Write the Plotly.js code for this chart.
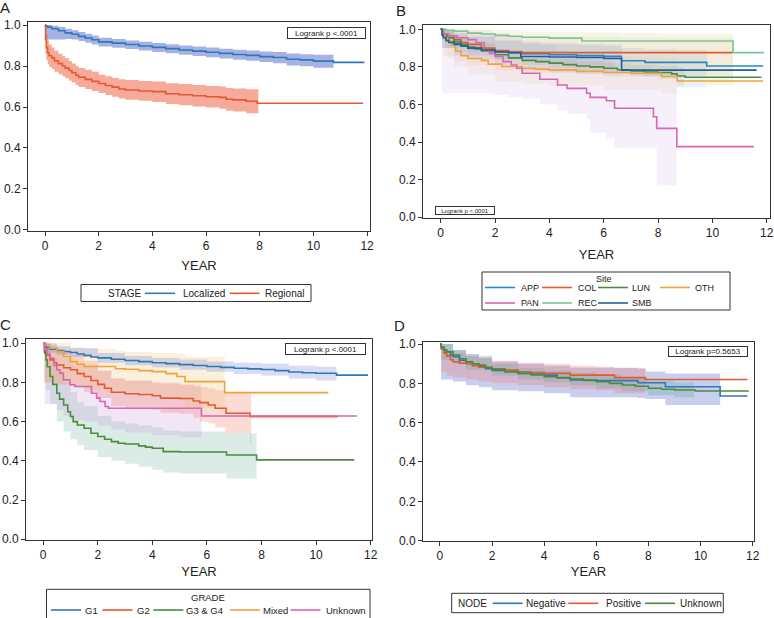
<!DOCTYPE html>
<html><head><meta charset="utf-8">
<script src="https://cdn.plot.ly/plotly-3.0.1.min.js"></script>
<style>html,body{margin:0;padding:0;background:#fff}#chart{width:774px;height:618px}</style>
</head><body><div id="chart"></div>
<script>
// ---------- Panel A : STAGE ----------
const A_LOC_T = [0,0.02,0.1,0.25,0.5,0.75,1,1.25,1.5,1.75,2,2.5,3,3.5,4,4.5,5,5.5,6,6.5,7,7.5,8,8.5,9,9.5,10,10.75,11.9];
const A_LOC_S = [1,0.995,0.99,0.982,0.972,0.962,0.955,0.945,0.937,0.928,0.918,0.912,0.905,0.898,0.891,0.885,0.878,0.873,0.867,0.862,0.856,0.852,0.846,0.842,0.833,0.83,0.824,0.818,0.818];
const A_LOC_BT = [0,0.02,0.1,0.25,0.5,0.75,1,1.25,1.5,1.75,2,2.5,3,3.5,4,4.5,5,5.5,6,6.5,7,7.5,8,8.5,9,9.5,10,10.75];
const A_LOC_LO = [1,0.935,0.93,0.93,0.93,0.932,0.93,0.922,0.914,0.905,0.895,0.889,0.883,0.876,0.869,0.862,0.855,0.849,0.843,0.837,0.831,0.826,0.82,0.814,0.803,0.799,0.792,0.775];
const A_LOC_HI = [1,1,1,0.997,0.99,0.982,0.975,0.966,0.958,0.949,0.938,0.932,0.925,0.919,0.912,0.906,0.9,0.895,0.89,0.885,0.88,0.876,0.871,0.868,0.861,0.858,0.855,0.855];
const A_REG_T = [0,0.02,0.05,0.1,0.15,0.25,0.35,0.5,0.65,0.75,0.9,1,1.15,1.25,1.5,1.75,2,2.25,2.5,2.75,3,3.5,4,4.5,5,5.5,6,6.5,6.75,7,7.5,7.9,11.85];
const A_REG_S = [1,0.93,0.89,0.865,0.85,0.84,0.825,0.812,0.8,0.79,0.778,0.768,0.755,0.745,0.735,0.725,0.715,0.705,0.697,0.688,0.683,0.678,0.675,0.665,0.66,0.655,0.65,0.647,0.638,0.635,0.628,0.618,0.618];
const A_REG_BT = [0,0.02,0.05,0.1,0.15,0.25,0.35,0.5,0.65,0.75,0.9,1,1.15,1.25,1.5,1.75,2,2.25,2.5,2.75,3,3.5,4,4.5,5,5.5,6,6.5,6.75,7,7.5,7.95];
const A_REG_HI = [1,0.99,0.955,0.925,0.905,0.89,0.875,0.86,0.848,0.838,0.825,0.812,0.8,0.79,0.782,0.772,0.758,0.75,0.742,0.735,0.732,0.727,0.724,0.716,0.712,0.708,0.703,0.7,0.693,0.69,0.687,0.686];
const A_REG_LO = [1,0.86,0.83,0.81,0.795,0.785,0.772,0.76,0.75,0.74,0.728,0.72,0.708,0.698,0.688,0.678,0.668,0.658,0.65,0.642,0.635,0.63,0.625,0.615,0.608,0.602,0.597,0.592,0.582,0.578,0.57,0.553];

// ---------- Panel B : Site ----------
const B_APP_T = [0,0.05,0.1,0.2,0.3,0.5,0.75,1,1.25,1.5,2,2.5,3,4,5,6,6.65,7.52,9.79,11.87];
const B_APP_S = [1,0.975,0.96,0.945,0.935,0.925,0.915,0.905,0.9,0.893,0.882,0.876,0.87,0.865,0.86,0.856,0.833,0.824,0.805,0.805];
const B_APP_BT = [0,0.05,0.5,1,2,3,4,5,6,6.65,7.52,8.7,9.79];
const B_APP_LO = [1,0.9,0.875,0.86,0.84,0.83,0.82,0.81,0.8,0.77,0.75,0.69,0.69];
const B_APP_HI = [1,0.995,0.975,0.96,0.94,0.925,0.92,0.915,0.91,0.9,0.895,0.89,0.885];
const B_COL_T = [0,0.1,0.25,0.5,0.75,1,1.5,2,2.5,3,10.75];
const B_COL_S = [1,0.97,0.955,0.945,0.93,0.92,0.9,0.887,0.88,0.876,0.876];
const B_COL_BT = [0,0.1,0.5,1,2,3,6.65,10.75];
const B_COL_LO = [1,0.86,0.83,0.81,0.78,0.77,0.75,0.73];
const B_COL_HI = [1,0.995,0.99,0.98,0.965,0.96,0.955,0.95];
const B_LUN_T = [0,0.1,0.25,0.5,0.75,1,1.25,1.5,2,2.5,3,3.5,4,4.5,5,5.5,6,6.5,7,7.5,8,8.5,8.7,9,11.8];
const B_LUN_S = [1,0.975,0.955,0.935,0.92,0.905,0.895,0.885,0.865,0.848,0.835,0.828,0.82,0.812,0.805,0.8,0.793,0.785,0.778,0.773,0.77,0.763,0.752,0.745,0.745];
const B_LUN_BT = [0,0.1,0.5,1,2,3,4,5,6,7,8,8.7,8.95];
const B_LUN_LO = [1,0.95,0.91,0.88,0.84,0.81,0.795,0.78,0.765,0.75,0.735,0.7,0.69];
const B_LUN_HI = [1,0.995,0.96,0.93,0.89,0.86,0.845,0.83,0.82,0.81,0.805,0.8,0.79];
const B_OTH_T = [0,0.05,0.15,0.25,0.4,0.55,0.75,1,1.5,1.75,2.25,3,3.5,4,5,6,7,8.13,8.7,11.87];
const B_OTH_S = [1,0.975,0.955,0.94,0.915,0.885,0.86,0.845,0.835,0.815,0.802,0.793,0.788,0.784,0.776,0.77,0.766,0.749,0.725,0.725];
const B_OTH_BT = [0,0.05,0.25,0.5,1,2,3,4,6,8.13,8.7];
const B_OTH_LO = [1,0.9,0.85,0.8,0.76,0.72,0.71,0.7,0.68,0.66,0.645];
const B_OTH_HI = [1,1,0.99,0.96,0.92,0.89,0.875,0.865,0.855,0.845,0.83];
const B_PAN_T = [0,0.1,0.3,0.6,1,1.3,1.6,1.8,2,2.3,2.6,2.8,3,3.65,4.3,4.65,5.37,5.5,6.1,6.4,7.83,7.95,8.69,11.53];
const B_PAN_S = [1,0.975,0.965,0.955,0.945,0.93,0.89,0.872,0.855,0.828,0.81,0.793,0.766,0.734,0.704,0.686,0.66,0.638,0.62,0.58,0.535,0.473,0.376,0.376];
const B_PAN_BT = [0,0.05,1,1.9,2.5,3,3.65,4.3,4.65,5.37,5.5,6.1,6.4,7.83,7.95,8.69];
const B_PAN_LO = [1,0.66,0.66,0.65,0.64,0.63,0.6,0.57,0.55,0.52,0.45,0.42,0.37,0.37,0.17,0.02];
const B_PAN_HI = [1,1,0.995,0.98,0.96,0.94,0.915,0.89,0.875,0.86,0.84,0.83,0.8,0.78,0.75,0.72];
const B_REC_T = [0,0.2,0.5,1,1.5,2,2.5,3,4,5.2,10.76,11.9];
const B_REC_S = [1,0.995,0.99,0.98,0.975,0.968,0.963,0.958,0.953,0.938,0.876,0.876];
const B_REC_BT = [0,0.2,1,2,3,5.2,6.65,8,9.8,10.76];
const B_REC_LO = [1,0.9,0.89,0.87,0.86,0.84,0.8,0.75,0.7,0.62];
const B_REC_HI = [1,1,1,0.995,0.99,0.985,0.98,0.978,0.978,0.975];
const B_SMB_T = [0,0.05,0.1,0.2,0.3,0.5,0.75,1,1.5,2,2.5,2.95,4,5,6,6.66,11.63];
const B_SMB_S = [1,0.97,0.955,0.94,0.93,0.92,0.91,0.9,0.89,0.88,0.875,0.855,0.853,0.85,0.845,0.783,0.783];
const B_SMB_BT = [0,0.05,0.5,1,2,2.95,4,5,6,6.66];
const B_SMB_LO = [1,0.9,0.86,0.84,0.81,0.78,0.77,0.76,0.75,0.52];
const B_SMB_HI = [1,0.995,0.98,0.96,0.94,0.93,0.93,0.925,0.92,0.92];

// ---------- Panel C : GRADE ----------
const C_G1_T = [0,0.05,0.1,0.25,0.5,0.75,1,1.25,1.5,1.75,2,2.5,3,3.5,4,4.5,5,5.5,6,6.5,7,7.5,8,8.5,9,9.5,10,10.75,11.9];
const C_G1_S = [1,0.985,0.978,0.97,0.963,0.958,0.953,0.945,0.938,0.93,0.925,0.918,0.912,0.906,0.9,0.896,0.891,0.886,0.881,0.877,0.872,0.869,0.866,0.86,0.853,0.849,0.847,0.837,0.837];
const C_G1_BT = [0,0.05,0.5,1,2,3,4,5,6,7,8,9,10,10.75];
const C_G1_LO = [1,0.95,0.94,0.93,0.9,0.888,0.876,0.865,0.855,0.843,0.835,0.82,0.81,0.795];
const C_G1_HI = [1,1,0.985,0.975,0.95,0.935,0.925,0.917,0.907,0.9,0.895,0.885,0.88,0.875];
const C_G2_T = [0,0.05,0.1,0.25,0.4,0.5,0.75,1,1.25,1.5,1.75,2,2.25,2.5,3,3.5,4,4.3,5,5.5,5.74,6.05,6.3,6.7,7.58,10.8];
const C_G2_S = [1,0.96,0.94,0.915,0.9,0.889,0.875,0.865,0.845,0.83,0.81,0.79,0.77,0.75,0.742,0.738,0.732,0.72,0.718,0.705,0.697,0.685,0.668,0.643,0.626,0.626];
const C_G2_BT = [0,0.05,0.25,0.5,1,1.5,2,2.5,3,4,4.3,5,5.5,5.74,6.05,6.3,6.7,7.58,7.62,10.8];
const C_G2_LO = [1,0.8,0.8,0.79,0.78,0.75,0.72,0.68,0.67,0.66,0.645,0.64,0.62,0.6,0.59,0.57,0.54,0.49,0.617,0.617];
const C_G2_HI = [1,1,0.98,0.96,0.94,0.91,0.86,0.82,0.81,0.8,0.795,0.79,0.78,0.775,0.77,0.76,0.75,0.75,0.633,0.633];
const C_G34_T = [0,0.05,0.1,0.15,0.25,0.35,0.5,0.6,0.75,0.9,1,1.1,1.25,1.5,1.75,2,2.25,2.5,2.75,3,3.5,3.75,4,4.4,5,6.72,7.82,11.4];
const C_G34_S = [1,0.95,0.915,0.88,0.83,0.79,0.745,0.715,0.685,0.65,0.626,0.6,0.583,0.566,0.541,0.524,0.51,0.498,0.49,0.486,0.476,0.47,0.464,0.447,0.445,0.43,0.405,0.405];
const C_G34_BT = [0,0.05,0.1,0.25,0.5,0.75,1,1.25,1.5,2,2.5,3,3.5,4,4.4,5,6.72,7.82];
const C_G34_LO = [1,0.8,0.76,0.69,0.6,0.55,0.51,0.48,0.455,0.42,0.4,0.385,0.37,0.355,0.34,0.335,0.31,0.27];
const C_G34_HI = [1,1,0.97,0.93,0.86,0.8,0.75,0.7,0.68,0.63,0.6,0.59,0.58,0.57,0.555,0.55,0.54,0.54];
const C_MIX_T = [0,0.1,0.25,0.5,0.75,1,1.25,1.5,2.65,3,3.5,4,4.5,4.9,5.2,6.65,10.45];
const C_MIX_S = [1,0.99,0.975,0.957,0.932,0.906,0.893,0.881,0.87,0.867,0.86,0.855,0.845,0.83,0.804,0.748,0.748];
const C_MIX_BT = [0,0.1,0.5,1,1.5,2.65,3,4,4.9,5.2,6.65];
const C_MIX_LO = [1,0.82,0.8,0.78,0.77,0.76,0.75,0.73,0.71,0.67,0.525];
const C_MIX_HI = [1,1,1,0.98,0.97,0.96,0.955,0.95,0.945,0.93,0.93];
const C_UNK_T = [0,0.05,0.15,0.25,0.4,0.5,0.61,0.74,0.98,1.16,1.77,1.96,2.08,2.27,2.39,5.8,11.5];
const C_UNK_S = [1,0.97,0.945,0.923,0.885,0.865,0.847,0.813,0.788,0.779,0.745,0.72,0.703,0.677,0.668,0.629,0.629];
const C_UNK_BT = [0,0.05,0.25,0.5,0.75,1,1.5,2,2.5,3,4,5,5.8];
const C_UNK_LO = [1,0.69,0.69,0.66,0.63,0.61,0.6,0.58,0.56,0.545,0.53,0.52,0.44];
const C_UNK_HI = [1,1,0.99,0.96,0.93,0.9,0.89,0.86,0.82,0.81,0.8,0.79,0.79];

// ---------- Panel D : NODE ----------
const D_NEG_T = [0,0.05,0.15,0.25,0.4,0.5,0.75,1,1.25,1.5,1.75,2,2.5,3,3.5,4,4.5,5,6,7.6,8.65,10.75,11.8];
const D_NEG_S = [1,0.98,0.97,0.961,0.945,0.936,0.918,0.902,0.892,0.885,0.875,0.866,0.86,0.851,0.848,0.842,0.83,0.817,0.814,0.803,0.783,0.736,0.736];
const D_NEG_BT = [0,0.05,0.5,1,1.5,2,3,4,5,6,7.6,7.9,8.65,10.75];
const D_NEG_LO = [1,0.82,0.81,0.79,0.78,0.765,0.76,0.75,0.73,0.73,0.725,0.72,0.69,0.54];
const D_NEG_HI = [1,1,0.97,0.95,0.93,0.91,0.9,0.89,0.88,0.88,0.875,0.86,0.85,0.85];
const D_POS_T = [0,0.05,0.15,0.25,0.4,0.5,0.75,1,1.25,1.5,2,2.5,3,3.5,4,5,6.7,7.87,11.8];
const D_POS_S = [1,0.975,0.955,0.94,0.92,0.91,0.902,0.9,0.89,0.882,0.874,0.868,0.859,0.855,0.851,0.842,0.829,0.82,0.82];
const D_POS_BT = [0,0.05,0.25,0.5,1,1.5,2,3,4,5,6,6.7,7.87];
const D_POS_LO = [1,0.86,0.84,0.83,0.82,0.81,0.8,0.79,0.78,0.77,0.765,0.75,0.73];
const D_POS_HI = [1,0.99,0.97,0.955,0.94,0.93,0.915,0.905,0.9,0.89,0.885,0.878,0.876];
const D_UNK_T = [0,0.05,0.15,0.25,0.5,0.75,1,1.25,1.5,1.75,2,2.5,3,3.5,4,4.5,5,5.5,6,6.5,7,7.5,8,8.5,9,9.8,11.85];
const D_UNK_S = [1,0.985,0.97,0.96,0.944,0.925,0.91,0.9,0.893,0.88,0.871,0.86,0.851,0.843,0.834,0.828,0.822,0.815,0.808,0.8,0.792,0.785,0.775,0.77,0.766,0.761,0.761];
const D_UNK_BT = [0,0.05,0.5,1,2,3,4,5,6,7,8,9,9.75];
const D_UNK_LO = [1,0.92,0.9,0.87,0.84,0.82,0.805,0.79,0.775,0.76,0.74,0.73,0.72];
const D_UNK_HI = [1,1,0.97,0.94,0.9,0.88,0.865,0.855,0.845,0.83,0.815,0.805,0.8];

const X_TICKS = [0,2,4,6,8,10,12];
const Y_TICKS = [0,0.2,0.4,0.6,0.8,1.0];

// legend labels
const A_LEGEND_TITLE = 'STAGE', A_NAMES = ['Localized','Regional'];
const B_LEGEND_TITLE = 'Site', B_NAMES_ROW1 = ['APP','COL','LUN','OTH'], B_NAMES_ROW2 = ['PAN','REC','SMB'];
const C_LEGEND_TITLE = 'GRADE', C_NAMES = ['G1','G2','G3 & G4','Mixed','Unknown'];
const D_LEGEND_TITLE = 'NODE', D_NAMES = ['Negative','Positive','Unknown'];

// ---------- styles ----------
const C_BLUE='#2f78b7', C_RED='#e4592f', C_GREEN='#4a8b3f', C_ORANGE='#f2a23c', C_PINK='#d966b3', C_LTGREEN='#79c596', C_DKBLUE='#20609c', C_APP='#2a85c8';

const traces = [];
function band(ax, t, lo, hi, fill){
  traces.push({type:'scatter',mode:'lines',x:t,y:hi,xaxis:'x'+ax,yaxis:'y'+ax,line:{width:0,shape:'hv'},showlegend:false,hoverinfo:'skip'});
  traces.push({type:'scatter',mode:'lines',x:t,y:lo,xaxis:'x'+ax,yaxis:'y'+ax,line:{width:0,shape:'hv'},fill:'tonexty',fillcolor:fill,showlegend:false,hoverinfo:'skip'});
}
function curve(ax, t, s, color, name){
  traces.push({type:'scatter',mode:'lines',x:t,y:s,xaxis:'x'+ax,yaxis:'y'+ax,name:name,showlegend:false,line:{color:color,width:1.6,shape:'hv'}});
}
// A
band('', A_LOC_BT, A_LOC_LO, A_LOC_HI, 'rgba(95,115,205,0.55)');
band('', A_REG_BT, A_REG_LO, A_REG_HI, 'rgba(238,100,70,0.55)');
curve('', A_LOC_T, A_LOC_S, C_BLUE, A_NAMES[0]);
curve('', A_REG_T, A_REG_S, C_RED, A_NAMES[1]);
// B
band('2', B_PAN_BT, B_PAN_LO, B_PAN_HI, 'rgba(180,140,215,0.13)');
band('2', B_REC_BT, B_REC_LO, B_REC_HI, 'rgba(205,215,130,0.2)');
band('2', B_OTH_BT, B_OTH_LO, B_OTH_HI, 'rgba(230,170,90,0.1)');
band('2', B_LUN_BT, B_LUN_LO, B_LUN_HI, 'rgba(80,140,90,0.1)');
band('2', B_COL_BT, B_COL_LO, B_COL_HI, 'rgba(230,110,80,0.08)');
band('2', B_SMB_BT, B_SMB_LO, B_SMB_HI, 'rgba(90,110,190,0.1)');
band('2', B_APP_BT, B_APP_LO, B_APP_HI, 'rgba(80,150,210,0.12)');
const B_COLORS1 = [C_APP, C_RED, C_GREEN, C_ORANGE], B_COLORS2 = [C_PINK, C_LTGREEN, C_DKBLUE];
curve('2', B_APP_T, B_APP_S, C_APP, 'APP');
curve('2', B_COL_T, B_COL_S, C_RED, 'COL');
curve('2', B_LUN_T, B_LUN_S, C_GREEN, 'LUN');
curve('2', B_OTH_T, B_OTH_S, C_ORANGE, 'OTH');
curve('2', B_PAN_T, B_PAN_S, C_PINK, 'PAN');
curve('2', B_REC_T, B_REC_S, C_LTGREEN, 'REC');
curve('2', B_SMB_T, B_SMB_S, C_DKBLUE, 'SMB');
// C
band('3', C_G34_BT, C_G34_LO, C_G34_HI, 'rgba(110,180,160,0.25)');
band('3', C_UNK_BT, C_UNK_LO, C_UNK_HI, 'rgba(200,150,220,0.25)');
band('3', C_G2_BT, C_G2_LO, C_G2_HI, 'rgba(240,110,80,0.25)');
band('3', C_MIX_BT, C_MIX_LO, C_MIX_HI, 'rgba(240,190,120,0.25)');
band('3', C_G1_BT, C_G1_LO, C_G1_HI, 'rgba(100,120,210,0.25)');
const C_COLORS = [C_BLUE, C_RED, C_GREEN, C_ORANGE, C_PINK];
curve('3', C_G1_T, C_G1_S, C_BLUE, 'G1');
curve('3', C_G2_T, C_G2_S, C_RED, 'G2');
curve('3', C_G34_T, C_G34_S, C_GREEN, 'G3 & G4');
curve('3', C_MIX_T, C_MIX_S, C_ORANGE, 'Mixed');
curve('3', C_UNK_T, C_UNK_S, C_PINK, 'Unknown');
// D
band('4', D_NEG_BT, D_NEG_LO, D_NEG_HI, 'rgba(100,115,210,0.35)');
band('4', D_POS_BT, D_POS_LO, D_POS_HI, 'rgba(240,120,110,0.3)');
band('4', D_UNK_BT, D_UNK_LO, D_UNK_HI, 'rgba(100,170,150,0.3)');
const D_COLORS = [C_BLUE, C_RED, C_GREEN];
curve('4', D_NEG_T, D_NEG_S, C_BLUE, 'Negative');
curve('4', D_POS_T, D_POS_S, C_RED, 'Positive');
curve('4', D_UNK_T, D_UNK_S, C_GREEN, 'Unknown');

const W=774, H=618;
function px(v){return v/W;} function py(v){return 1-v/H;}
const FONT = 'Liberation Sans, Arial, sans-serif';
function xax(dom, rng, anchor, standoff){
  return {domain:dom, range:rng, anchor:anchor, tickvals:X_TICKS, ticks:'outside', ticklen:4, tickcolor:'#333',
    showline:true, linecolor:'#333', linewidth:1, mirror:true, showgrid:false, zeroline:false,
    tickfont:{size:12,color:'#222'}, title:{text:'YEAR', font:{size:13,color:'#222'}, standoff:standoff}};
}
function yax(dom, rng, anchor){
  return {domain:dom, range:rng, anchor:anchor, tickvals:Y_TICKS, tickformat:'.1f', ticks:'outside', ticklen:4, tickcolor:'#333',
    showline:true, linecolor:'#333', linewidth:1, mirror:true, showgrid:false, zeroline:false,
    tickfont:{size:12,color:'#222'}};
}
const annotations = [], shapes = [];
function txt(x, y, text, size, anchor){
  annotations.push({xref:'paper', yref:'paper', x:px(x), y:py(y), xanchor:anchor||'left', yanchor:'middle', text:text, showarrow:false,
    borderpad:0, font:{size:size,color:'#222'}});
}
function box(x0, y0, x1, y1){
  shapes.push({type:'rect', xref:'paper', yref:'paper', x0:px(x0), x1:px(x1), y0:py(y1), y1:py(y0), line:{color:'#333',width:1}, fillcolor:'rgba(0,0,0,0)'});
}
function key(x0, x1, y, color){
  shapes.push({type:'line', xref:'paper', yref:'paper', x0:px(x0), x1:px(x1), y0:py(y), y1:py(y), line:{color:color,width:1.6}});
}
function legendRow(names, colors, keyX, textX, y, size){
  names.forEach(function(n,i){ key(keyX[i], keyX[i]+30, y, colors[i]); txt(textX[i], y, n, size, 'left'); });
}
function logrank(cx, cy, w, h, t, size){
  annotations.push({xref:'paper', yref:'paper', x:px(cx), y:py(cy), xanchor:'center', yanchor:'middle', text:t, showarrow:false,
    font:{size:size,color:'#222'}, bordercolor:'#333', borderwidth:1, borderpad:0, width:w, height:h, bgcolor:'#fff'});
}
// panel letters
txt(5,8,'A',15,'center'); txt(401,10,'B',15,'center'); txt(5,324,'C',15,'center'); txt(400,325,'D',15,'center');
// logrank boxes
logrank(326.5,33,77,10,'Logrank p &lt;.0001',8);
logrank(464.5,210,58,7,'Logrank p &lt;.0001',6);
logrank(325.5,349,79,10,'Logrank p &lt;.0001',8);
logrank(708,351.5,78,9,'Logrank p=0.5653',8);
// legend A
box(81,284.5,311,301.5);
txt(142,293.3,A_LEGEND_TITLE,10,'right');
legendRow(A_NAMES,[C_BLUE,C_RED],[145,229.5],[182,263.5],293.3,10);
// legend B
box(482,272,730,310);
txt(604,279,B_LEGEND_TITLE,9,'center');
legendRow(B_NAMES_ROW1,B_COLORS1,[485,542,598,660],[520,577,631,694],287.5,9);
legendRow(B_NAMES_ROW2,B_COLORS2,[485,542,598],[520,577,631],303,9);
// legend C
box(46.5,589.3,370,640);
txt(208,597.5,C_LEGEND_TITLE,9.5,'center');
legendRow(C_NAMES,C_COLORS,[51,102.5,153.3,230,290.5],[84.3,135.7,185,261.7,325],610,9.5);
// legend D
box(451.7,593.3,723.3,612.7);
txt(488.3,603.3,D_LEGEND_TITLE,10,'right');
legendRow(D_NAMES,D_COLORS,[492.7,568.3,645],[525,605,679.3],603.3,10);

const layout = {
  width:W, height:H, margin:{l:0,r:0,t:0,b:0,autoexpand:false}, showlegend:false,
  paper_bgcolor:'#fff', plot_bgcolor:'#fff', font:{family:FONT, color:'#222'},
  xaxis: xax([px(28),px(370)], [-0.634,12.11], 'y', 8),
  yaxis: yax([py(230.5),py(22)], [-0.003,1.015], 'x'),
  xaxis2: xax([px(423),px(770)], [-0.65,12.12], 'y2', 10),
  yaxis2: yax([py(218),py(25)], [-0.004,1.023], 'x2'),
  xaxis3: xax([px(26),px(372)], [-0.63,12.05], 'y3', 5),
  yaxis3: yax([py(540),py(339.3)], [-0.004,1.02], 'x3'),
  xaxis4: xax([px(423),px(754)], [-0.65,12.05], 'y4', 4),
  yaxis4: yax([py(541),py(341.7)], [-0.002,1.012], 'x4'),
  shapes: shapes,
  annotations: annotations
};
Plotly.newPlot('chart', traces, layout, {staticPlot:true, displayModeBar:false});
</script>
</body></html>
